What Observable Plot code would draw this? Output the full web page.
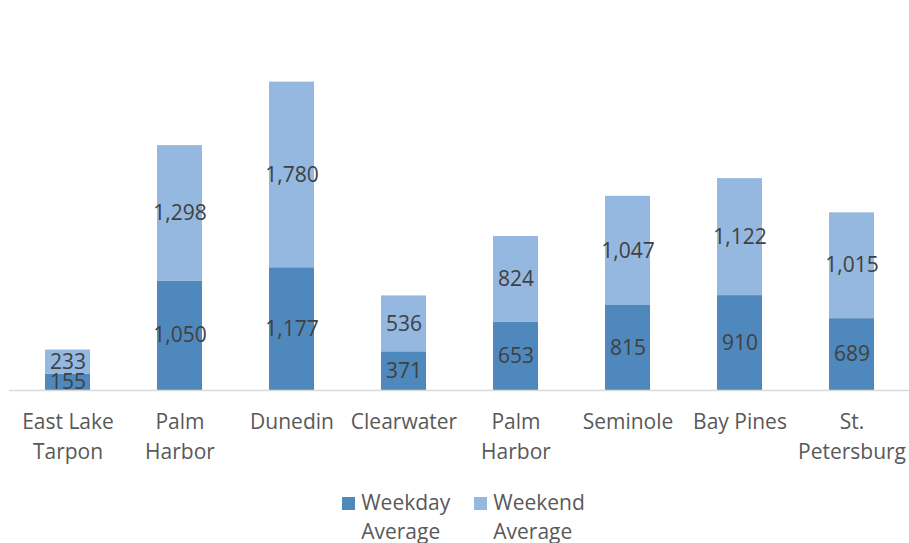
<!DOCTYPE html>
<html>
<head>
<meta charset="utf-8">
<script src="https://cdn.jsdelivr.net/npm/d3@7"></script>
<script src="https://cdn.jsdelivr.net/npm/@observablehq/plot@0.6"></script>
<style>
  body { margin: 0; background: #fff; font-family: "Open Sans", sans-serif; }
  #wrap { width: 909px; }
  .legend { display: flex; justify-content: center; gap: 24px; padding-left: 18px; font-size: 21px; line-height: 29px; color: #595959; }
  .item { display: flex; align-items: flex-start; }
  .sw { width: 13px; height: 13px; margin-top: 9px; margin-right: 6px; flex: none; }
</style>
</head>
<body>
<div id="wrap"></div>
<script>
const cities = ["East Lake Tarpon", "Palm Harbor", "Dunedin", "Clearwater", "Palm Harbor", "Seminole", "Bay Pines", "St. Petersburg"];
const tickLabels = ["East Lake\nTarpon", "Palm\nHarbor", "Dunedin", "Clearwater", "Palm\nHarbor", "Seminole", "Bay Pines", "St.\nPetersburg"];
const weekday = [155, 1050, 1177, 371, 653, 815, 910, 689];
const weekend = [233, 1298, 1780, 536, 824, 1047, 1122, 1015];
const seriesNames = ["Weekday Average", "Weekend Average"];
const seriesColors = ["#4f88bc", "#95b8e0"];

const rows = [];
cities.forEach((c, i) => {
  rows.push({i, series: seriesNames[0], value: weekday[i], y1: 0, y2: weekday[i]});
  rows.push({i, series: seriesNames[1], value: weekend[i], y1: weekday[i], y2: weekday[i] + weekend[i]});
});

const chart = Plot.plot({
  width: 909,
  height: 488,
  marginTop: 25,
  marginBottom: 98,
  marginLeft: 9,
  marginRight: 0,
  style: {fontFamily: "Open Sans, sans-serif", fontSize: "21px", background: "#fff"},
  x: {type: "band", domain: d3.range(cities.length), paddingInner: 0.6, paddingOuter: 0.3, label: null},
  y: {domain: [0, 3500], axis: null},
  color: {domain: seriesNames, range: seriesColors},
  marks: [
    Plot.rectY(rows, {x: "i", y1: "y1", y2: "y2", fill: "series"}),
    Plot.ruleY([0], {stroke: "#d9d9d9", strokeWidth: 1.5}),
    Plot.text(rows, {x: "i", y: d => (d.y1 + d.y2) / 2, text: d => d3.format(",")(d.value), fill: "#404040", fontSize: 21}),
    Plot.axisX({tickSize: 0, tickPadding: 18, tickFormat: i => tickLabels[i], fontSize: 21, fill: "#595959", lineHeight: 1.4, label: null})
  ]
});
document.getElementById("wrap").appendChild(chart);

const legend = document.createElement("div");
legend.className = "legend";
seriesNames.forEach((name, k) => {
  const it = document.createElement("div");
  it.className = "item";
  const sw = document.createElement("div");
  sw.className = "sw";
  sw.style.background = seriesColors[k];
  const tx = document.createElement("div");
  const parts = name.split(" ");
  tx.innerHTML = parts[0] + "<br>" + parts[1];
  it.appendChild(sw);
  it.appendChild(tx);
  legend.appendChild(it);
});
document.getElementById("wrap").appendChild(legend);
</script>
</body>
</html>
